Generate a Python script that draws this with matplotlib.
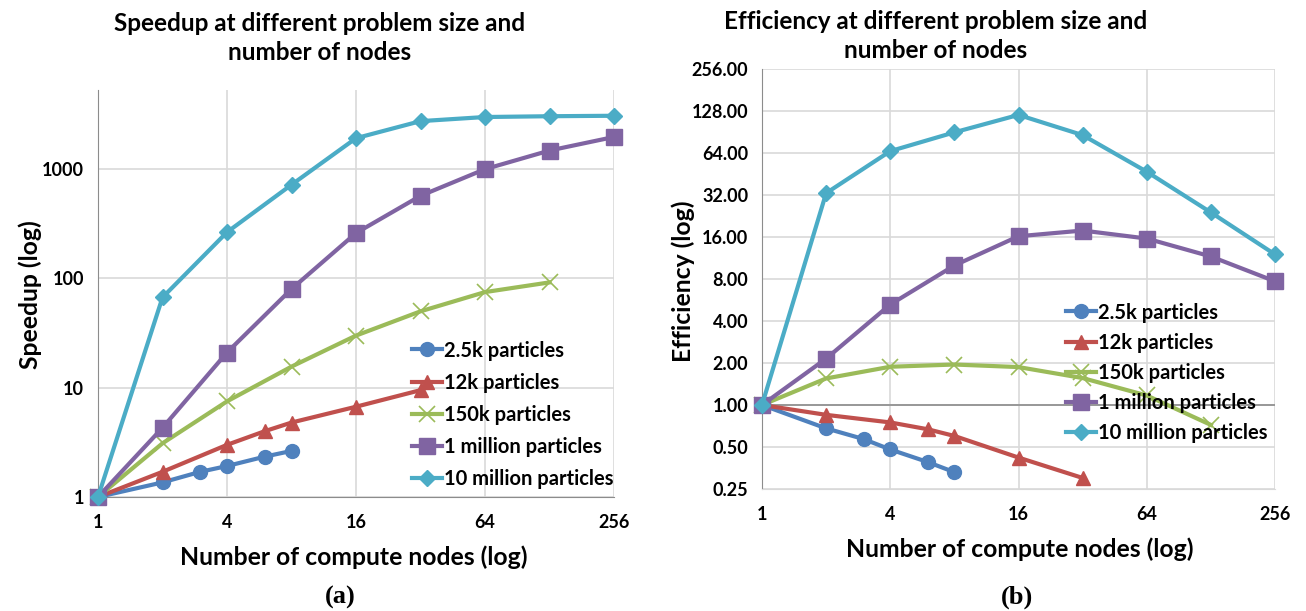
import matplotlib
matplotlib.use("Agg")
import matplotlib.pyplot as plt
from matplotlib.ticker import FixedLocator, NullLocator, FixedFormatter

# ---- data ----
series_names = ["2.5k particles", "12k particles", "150k particles",
                "1 million particles", "10 million particles"]
nodes_25k = [1, 2, 3, 4, 6, 8]
nodes_12k = [1, 2, 4, 6, 8, 16, 32]
nodes_150k = [1, 2, 4, 8, 16, 32, 64, 128]
nodes_1m = [1, 2, 4, 8, 16, 32, 64, 128, 256]
nodes_10m = [1, 2, 4, 8, 16, 32, 64, 128, 256]

speedup_25k = [1, 1.36, 1.7, 1.92, 2.34, 2.64]
speedup_12k = [1, 1.7, 3.0, 4.0, 4.8, 6.7, 9.5]
speedup_150k = [1, 3.1, 7.5, 15.6, 30, 50, 75, 92]
speedup_1m = [1, 4.3, 21, 80, 260, 570, 1000, 1480, 1970]
speedup_10m = [1, 67, 265, 720, 1920, 2750, 3000, 3050, 3080]

eff_25k = [1, 0.68, 0.57, 0.48, 0.39, 0.33]
eff_12k = [1, 0.85, 0.75, 0.67, 0.60, 0.42, 0.30]
eff_150k = [1, 1.55, 1.88, 1.95, 1.87, 1.56, 1.17, 0.72]
eff_1m = [1, 2.15, 5.25, 10.0, 16.2, 17.8, 15.6, 11.6, 7.7]
eff_10m = [1, 33, 66, 90, 120, 86, 47, 24, 12]

x_ticks = [1, 4, 16, 64, 256]
x_ticklabels = ["1", "4", "16", "64", "256"]
speed_ticks = [1, 10, 100, 1000]
speed_ticklabels = ["1", "10", "100", "1000"]
eff_ticks = [0.25, 0.5, 1, 2, 4, 8, 16, 32, 64, 128, 256]
eff_ticklabels = ["0.25", "0.50", "1.00", "2.00", "4.00", "8.00", "16.00",
                  "32.00", "64.00", "128.00", "256.00"]

colors = ["#4F81BD", "#C0504D", "#9BBB59", "#8064A2", "#4BACC6"]
markers = ["o", "^", "x", "s", "D"]
msizes = [10, 10, 11, 11, 8.5]

FONT = "Lato"
GRID = "#D9D9D9"
AXC = "#8C8C8C"

fig = plt.figure(figsize=(13.06, 6.11), dpi=100)
W, H = 1306, 611

def add_ax(x0, y0, x1, y1):
    return fig.add_axes([x0 / W, 1 - y1 / H, (x1 - x0) / W, (y1 - y0) / H])

ax1 = add_ax(98, 90, 614, 497)
ax2 = add_ax(762, 69, 1275, 489)

def style(ax, xs_list, ys_list, yticks, ylabels, ylim, labelspacing):
    for i, (xs, ys) in enumerate(zip(xs_list, ys_list)):
        kw = dict(color=colors[i], lw=3, marker=markers[i], ms=msizes[i],
                  label=series_names[i], zorder=3 + i * 0.1, clip_on=False)
        if markers[i] == "x":
            kw.update(mew=1.2)
        else:
            kw.update(mec=colors[i])
        ax.plot(xs, ys, **kw)
    ax.set_xscale("log", base=2)
    ax.set_yscale("log")
    ax.set_xlim(1, 256)
    ax.set_ylim(*ylim)
    ax.xaxis.set_major_locator(FixedLocator(x_ticks))
    ax.xaxis.set_major_formatter(FixedFormatter(x_ticklabels))
    ax.xaxis.set_minor_locator(NullLocator())
    ax.yaxis.set_major_locator(FixedLocator(yticks))
    ax.yaxis.set_major_formatter(FixedFormatter(ylabels))
    ax.yaxis.set_minor_locator(NullLocator())
    ax.grid(True, color=GRID, lw=1.2, zorder=0)
    ax.set_axisbelow(True)
    for s in ["top", "right"]:
        ax.spines[s].set_visible(False)
    ax.spines["left"].set_color(AXC)
    ax.spines["bottom"].set_color(AXC)
    ax.tick_params(axis="x", length=0, pad=12, labelsize=13)
    ax.tick_params(axis="y", length=0, pad=10, labelsize=13)
    for lab in ax.get_xticklabels() + ax.get_yticklabels():
        lab.set_fontfamily(FONT)
        lab.set_fontweight("bold")
    leg = ax.legend(loc="lower right", frameon=False, handlelength=1.5,
                    handletextpad=0.1, labelspacing=labelspacing,
                    borderpad=0, borderaxespad=0,
                    prop=dict(family=FONT, weight="bold", size=14.5))
    return leg

leg1 = style(ax1, [nodes_25k, nodes_12k, nodes_150k, nodes_1m, nodes_10m],
             [speedup_25k, speedup_12k, speedup_150k, speedup_1m, speedup_10m],
             speed_ticks, speed_ticklabels, (1, 5300), 0.6)
leg1.set_bbox_to_anchor((1.0, 0.02))

leg2 = style(ax2, [nodes_25k, nodes_12k, nodes_150k, nodes_1m, nodes_10m],
             [eff_25k, eff_12k, eff_150k, eff_1m, eff_10m],
             eff_ticks, eff_ticklabels, (0.25, 256), 0.5)
leg2.set_bbox_to_anchor((0.985, 0.11))
ax2.spines["bottom"].set_color(GRID)
ax2.axhline(1, color=AXC, lw=1.2, zorder=1)

# titles and labels
tkw = dict(fontfamily=FONT, fontweight="bold", fontsize=17.5, ha="center",
           linespacing=1.35)
fig.text(320 / W, 1 - 38 / H, "Speedup at different problem size and\nnumber of nodes",
         va="center", **tkw)
fig.text(936 / W, 1 - 36 / H, "Efficiency at different problem size and\nnumber of nodes",
         va="center", **tkw)

lkw = dict(fontfamily=FONT, fontweight="bold", fontsize=17.8)
fig.text(354 / W, 1 - 557 / H, "Number of compute nodes (log)", ha="center",
         va="center", **lkw)
fig.text(1020 / W, 1 - 549 / H, "Number of compute nodes (log)", ha="center",
         va="center", **lkw)
fig.text(30 / W, 1 - 295 / H, "Speedup (log)", rotation=90, ha="center",
         va="center", **lkw)
fig.text(683 / W, 1 - 281 / H, "Efficiency (log)", rotation=90, ha="center",
         va="center", **lkw)

fig.text(340 / W, 1 - 597 / H, "(a)", ha="center", va="center",
         fontfamily="Liberation Serif", fontweight="bold", fontsize=19)
fig.text(1017 / W, 1 - 597 / H, "(b)", ha="center", va="center",
         fontfamily="Liberation Serif", fontweight="bold", fontsize=19)

fig.savefig("out.png", dpi=100)
